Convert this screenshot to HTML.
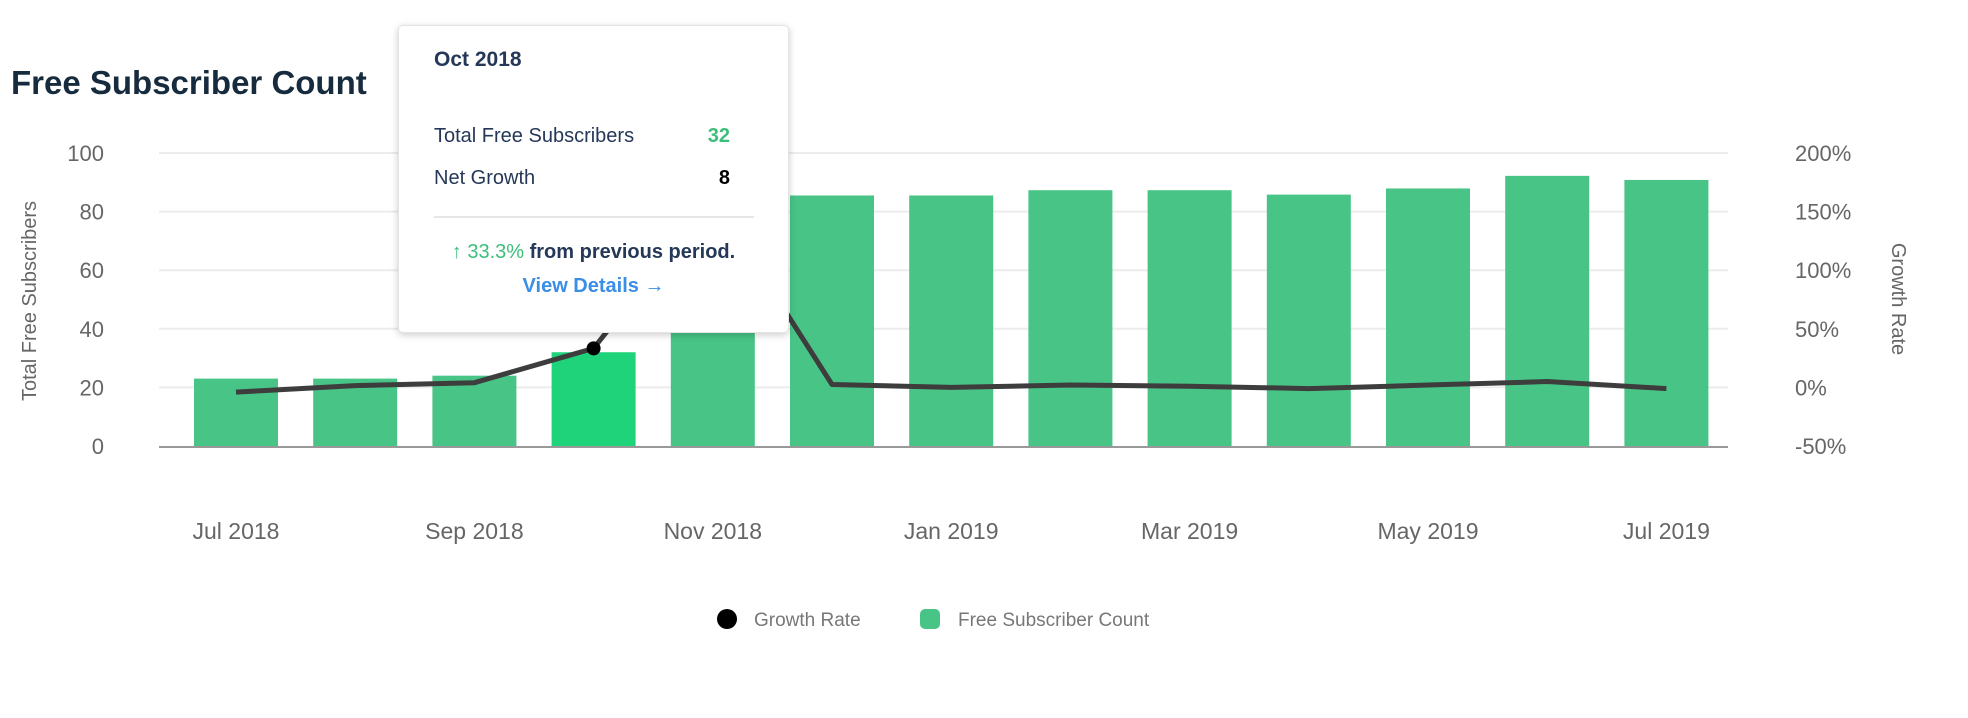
<!DOCTYPE html>
<html><head><meta charset="utf-8"><style>
body{margin:0;background:#fff;font-family:"Liberation Sans",sans-serif;}
#wrap{position:relative;width:1968px;height:718px;overflow:hidden;}
.tt{position:absolute;left:398px;top:25px;width:391px;height:308px;background:#fff;border-radius:5px;box-shadow:0 2px 8px rgba(0,0,0,0.2);border:1px solid #e4e4e4;box-sizing:border-box;color:#253858;}
</style></head><body>
<div id="wrap">
<svg id="chart" width="1968" height="718">
<text x="11" y="94" font-size="33" fill="#172b3e" font-weight="600">Free Subscriber Count</text>
<g id="grid"></g><g id="bars"></g><g id="line"></g><g id="axes"></g>
<text transform="translate(36,301) rotate(-90)" text-anchor="middle" font-size="20" fill="#666">Total Free Subscribers</text>
<text transform="translate(1892,299) rotate(90)" text-anchor="middle" font-size="20" fill="#666">Growth Rate</text>
<g>
<circle cx="727" cy="619" r="10" fill="#000"/>
<text x="754" y="626" font-size="19" fill="#777">Growth Rate</text>
<rect x="920" y="609" width="20" height="20" rx="5" fill="#48c486"/>
<text x="958" y="626" font-size="19" fill="#777">Free Subscriber Count</text>
</g>
</svg>
<div class="tt">
<div style="position:absolute;left:35px;top:22px;font-size:21px;font-weight:bold;">Oct 2018</div>
<div style="position:absolute;left:35px;top:99px;font-size:20px;">Total Free Subscribers</div>
<div style="position:absolute;right:58px;top:99px;font-size:20px;font-weight:bold;color:#3cbf7a;">32</div>
<div style="position:absolute;left:35px;top:141px;font-size:20px;">Net Growth</div>
<div style="position:absolute;right:58px;top:141px;font-size:20px;font-weight:bold;color:#000;">8</div>
<div style="position:absolute;left:35px;top:190px;width:320px;height:2px;background:#e6e6e6;"></div>
<div style="position:absolute;left:0;width:100%;top:215px;text-align:center;font-size:20px;"><span style="color:#3cbf7a">&#8593; 33.3%</span> <span style="font-weight:600">from previous period.</span></div>
<div style="position:absolute;left:0;width:100%;top:249px;text-align:center;font-size:20px;font-weight:600;color:#3a8ee6;">View Details &#8594;</div>
</div>
</div>
<script>
const months=["Jul 2018","Aug 2018","Sep 2018","Oct 2018","Nov 2018","Dec 2018","Jan 2019","Feb 2019","Mar 2019","Apr 2019","May 2019","Jun 2019","Jul 2019"];
const counts=[23,23,24,32,84,85.5,85.5,87.3,87.3,85.8,87.9,92.2,90.8];
const growth=[-4,1.5,4,33.3,162,2.5,0,2,1,-1,2,5,-1];
const leftTicks=[0,20,40,60,80,100];
const rightTicks=["-50%","0%","50%","100%","150%","200%"];
const rightTickVals=[-50,0,50,100,150,200];
const NS="http://www.w3.org/2000/svg";
const X0=159,X1=1728,Y0=446,Y100=153;
const yL=v=>Y0-(v/100)*(Y0-Y100);
const yR=v=>Y0-((v+50)/250)*(Y0-Y100);
const step=119.2,first=236;
const xC=i=>first+i*step;
function mk(t,a,p){const e=document.createElementNS(NS,t);for(const k in a)e.setAttribute(k,a[k]);p.appendChild(e);return e;}
const grid=document.getElementById('grid'),bars=document.getElementById('bars'),line=document.getElementById('line'),axes=document.getElementById('axes');
leftTicks.forEach((v,i)=>{
 if(v>0){const g=mk('line',{x1:X0,x2:X1,y1:yL(v),y2:yL(v),stroke:'#ececec','stroke-width':2},grid);
 
 }
 const t=mk('text',{x:104,y:yL(v)+8,'text-anchor':'end','font-size':22,fill:'#666'},axes);t.textContent=v;
 
 
});
rightTickVals.forEach((v,i)=>{
 const t=mk('text',{x:1795,y:yR(v)+8,'font-size':22,fill:'#666'},axes);t.textContent=rightTicks[i];
 
 
});
counts.forEach((c,i)=>{
 const r=mk('rect',{x:xC(i)-42,y:yL(c),width:84,height:Y0-yL(c),fill:i===3?'#1ed37a':'#48c486'},bars);
 
 
});
const ax=mk('line',{x1:X0,x2:X1,y1:Y0+1,y2:Y0+1,stroke:'#999','stroke-width':2},axes);


months.forEach((m,i)=>{if(i%2)return;
 const t=mk('text',{x:xC(i),y:539,'text-anchor':'middle','font-size':23,fill:'#666'},axes);t.textContent=m;
 
 
});
const pts=growth.map((g,i)=>xC(i)+','+yR(g)).join(' ');
const pl=mk('polyline',{points:pts,fill:'none',stroke:'#3d3d3d','stroke-width':5,'stroke-linejoin':'round'},line);


const dot=mk('circle',{cx:xC(3),cy:yR(growth[3]),r:7,fill:'#000'},line);


</script>
</body></html>
